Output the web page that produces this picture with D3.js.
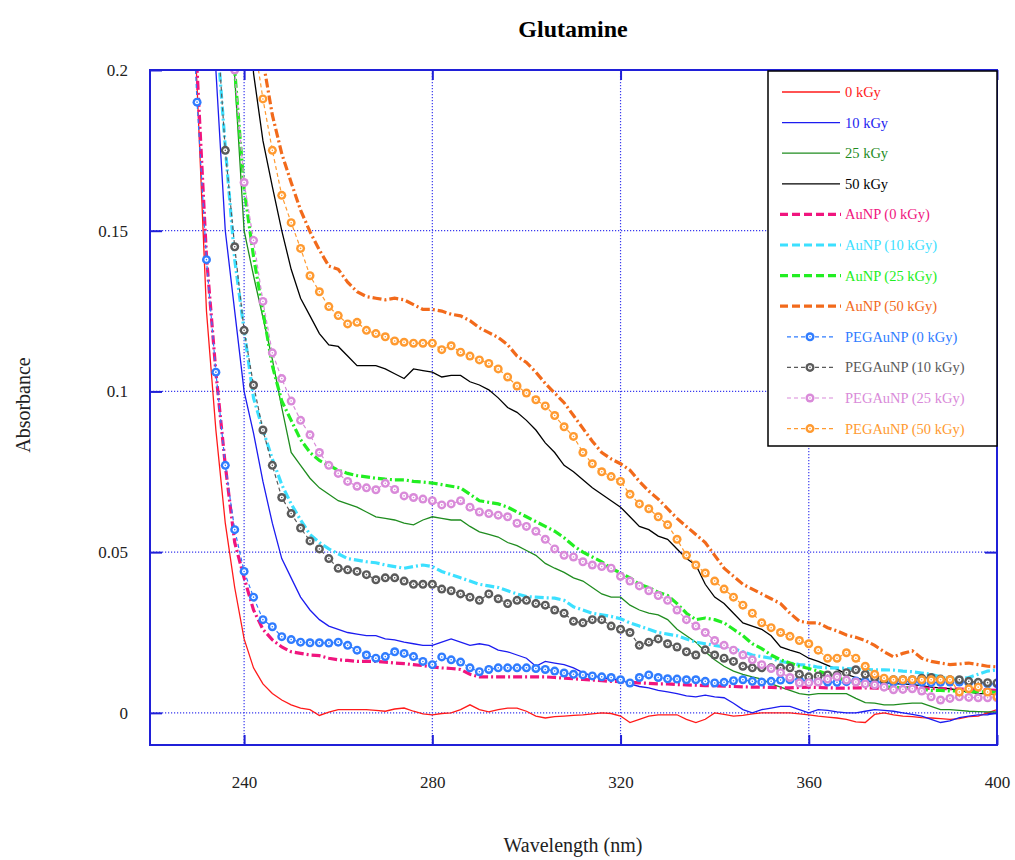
<!DOCTYPE html>
<html>
<head>
<meta charset="utf-8">
<script src="https://cdn.jsdelivr.net/npm/d3@7"></script>
<style>
  body { margin: 0; background: #fff; }
  svg { display: block; font-family: "Liberation Serif", "Times New Roman", serif; }
</style>
</head>
<body>
<svg id="chart" width="1015" height="860"></svg>
<script>
// wavelength grid (nm), read every 2 nm
var wavelength = [228,230,232,234,236,238,240,242,244,246,
  248,250,252,254,256,258,260,262,264,266,
  268,270,272,274,276,278,280,282,284,286,
  288,290,292,294,296,298,300,302,304,306,
  308,310,312,314,316,318,320,322,324,326,
  328,330,332,334,336,338,340,342,344,346,
  348,350,352,354,356,358,360,362,364,366,
  368,370,372,374,376,378,380,382,384,386,
  388,390,392,394,396,398,400];

var gy0 = [0.26,0.195,0.125,0.088,0.059,0.039,0.023,0.014,0.009,0.006,
  0.004,0.0025,0.0015,0.001,-0.0008,0.0002,0.001,0.001,0.001,0.001,
  0.0008,0.0005,0.0012,0.0015,0.0005,-0.0003,-0.0006,-0.0002,0,0.001,
  0.0025,0.001,0.0003,0.001,0.0015,0.0015,0.0005,-0.001,-0.0016,-0.0012,
  -0.001,-0.0008,-0.0006,-0.0003,0,-0.0002,-0.001,-0.003,-0.002,-0.001,
  -0.0006,-0.0006,-0.0006,-0.002,-0.003,-0.002,0,-0.0005,-0.001,-0.0008,
  -0.0003,0,0,0,0,-0.0003,-0.0006,-0.001,-0.0013,-0.0016,
  -0.002,-0.0028,-0.003,-0.0005,0,-0.0006,-0.001,-0.0012,-0.0015,-0.0016,
  -0.0018,-0.002,-0.0018,-0.0012,-0.001,0,0.001];

var gy10 = [null,null,0.25,0.2,0.15,0.125,0.1,0.087,0.072,0.059,
  0.048,0.042,0.036,0.032,0.029,0.027,0.026,0.025,0.0245,0.024,
  0.024,0.023,0.0227,0.022,0.0215,0.021,0.021,0.022,0.023,0.022,
  0.021,0.0215,0.021,0.0195,0.019,0.018,0.017,0.0145,0.016,0.0155,
  0.015,0.014,0.0125,0.0115,0.011,0.0105,0.0103,0.009,0.0082,0.0078,
  0.007,0.0065,0.006,0.0053,0.005,0.0055,0.005,0.0047,0.003,0.001,
  0,0.001,0.0015,0.002,0.002,0.001,0,0.001,0.0008,0.0003,
  0,0,0.0005,0.001,0.0008,0.0005,0,-0.0005,-0.001,-0.002,
  -0.003,-0.0025,-0.0015,-0.001,-0.0006,-0.0006,0];

var gy25 = [null,null,null,null,0.26,0.198,0.15,0.136,0.123,0.11,
  0.095,0.081,0.077,0.073,0.070,0.068,0.066,0.065,0.064,0.0625,
  0.061,0.0605,0.060,0.059,0.0585,0.060,0.061,0.0605,0.060,0.060,
  0.058,0.0563,0.0555,0.0547,0.053,0.052,0.0505,0.049,0.0465,0.045,
  0.0437,0.042,0.041,0.039,0.037,0.036,0.036,0.0335,0.032,0.031,
  0.0305,0.029,0.026,0.024,0.022,0.019,0.0165,0.0145,0.013,0.012,
  0.0112,0.0105,0.009,0.008,0.007,0.006,0.0056,0.006,0.006,0.006,
  0.006,0.0045,0.0032,0.003,0.0025,0.0025,0.0028,0.003,0.003,0.002,
  0.001,0.001,0.0008,0.0005,0.0004,0.0003,0.0003];

var gy50 = [null,null,null,null,null,null,0.26,0.199,0.178,0.1637,
  0.15,0.138,0.129,0.1235,0.118,0.1145,0.114,0.111,0.108,0.108,
  0.108,0.107,0.1055,0.104,0.107,0.1065,0.106,0.1045,0.105,0.105,
  0.103,0.102,0.1005,0.098,0.095,0.0935,0.091,0.088,0.084,0.081,
  0.077,0.075,0.0725,0.07,0.068,0.066,0.064,0.061,0.058,0.057,
  0.055,0.054,0.051,0.048,0.046,0.04,0.036,0.034,0.031,0.028,
  0.027,0.026,0.024,0.0205,0.0195,0.0187,0.017,0.016,0.0148,0.0136,
  0.012,0.011,0.010,0.0095,0.0095,0.009,0.009,0.0088,0.0085,0.008,
  0.0078,0.0075,0.007,0.0065,0.006,0.006,0.0055];

var au0 = [0.26,0.2,0.142,0.106,0.077,0.053,0.042,0.032,0.026,0.0227,
  0.0205,0.019,0.0185,0.018,0.0178,0.017,0.0165,0.0163,0.016,0.016,
  0.016,0.0158,0.0155,0.0153,0.015,0.0147,0.0143,0.014,0.0138,0.0135,
  0.012,0.0112,0.0112,0.0112,0.0112,0.0112,0.0112,0.0112,0.0112,0.011,
  0.0108,0.0106,0.0104,0.0102,0.010,0.0098,0.0097,0.0095,0.0093,0.0092,
  0.009,0.009,0.0088,0.0087,0.0086,0.0085,0.0084,0.0083,0.0082,0.0081,
  0.008,0.008,0.0079,0.0078,0.0078,0.0079,0.008,0.0079,0.0078,0.0077,
  0.0077,0.0078,0.0078,0.0077,0.0076,0.0078,0.0079,0.0078,0.0077,0.0076,
  0.0075,0.0075,0.0074,0.0073,0.0072,0.0071,0.007];

var au10 = [null,null,null,0.215,0.176,0.141,0.119,0.098,0.088,0.079,
  0.071,0.065,0.060,0.0555,0.053,0.051,0.0495,0.048,0.0475,0.047,
  0.0467,0.046,0.0455,0.045,0.0455,0.046,0.0455,0.044,0.043,0.042,
  0.041,0.040,0.0395,0.039,0.038,0.037,0.0362,0.036,0.0358,0.0357,
  0.035,0.033,0.032,0.031,0.0305,0.030,0.0293,0.028,0.027,0.026,
  0.025,0.0245,0.024,0.023,0.022,0.0215,0.021,0.0205,0.02,0.019,
  0.018,0.0175,0.017,0.016,0.0155,0.015,0.0148,0.0142,0.014,0.014,
  0.0138,0.0136,0.0135,0.0134,0.0134,0.0133,0.013,0.0128,0.0124,0.012,
  0.0112,0.0105,0.0105,0.011,0.012,0.013,0.0134];

var au25 = [null,null,null,null,0.25,0.2,0.163,0.142,0.125,0.108,
  0.097,0.091,0.085,0.081,0.0785,0.077,0.0755,0.0745,0.0738,0.0734,
  0.073,0.0727,0.0725,0.0725,0.072,0.0718,0.0715,0.071,0.0705,0.070,
  0.068,0.066,0.0655,0.065,0.064,0.0625,0.061,0.0595,0.058,0.0565,
  0.0545,0.052,0.050,0.0485,0.047,0.045,0.0435,0.042,0.040,0.039,
  0.0375,0.0365,0.034,0.031,0.029,0.0295,0.029,0.028,0.026,0.024,
  0.0215,0.020,0.018,0.0165,0.0155,0.0145,0.0138,0.013,0.012,0.011,
  0.010,0.0095,0.009,0.0085,0.008,0.008,0.0078,0.0075,0.0073,0.007,
  0.007,0.0068,0.0068,0.0066,0.0065,0.0065,0.0064];

var au50 = [null,null,null,null,null,null,null,0.25,0.203,0.186,
  0.174,0.165,0.1564,0.1497,0.144,0.139,0.138,0.134,0.131,0.1295,
  0.129,0.1285,0.129,0.1285,0.127,0.1255,0.1255,0.125,0.124,0.1235,
  0.122,0.1198,0.1183,0.1168,0.1145,0.111,0.109,0.106,0.1025,0.0995,
  0.0965,0.0925,0.0885,0.0845,0.081,0.079,0.0775,0.0755,0.072,0.069,
  0.0665,0.0635,0.0605,0.058,0.0555,0.053,0.049,0.045,0.0425,0.040,
  0.0385,0.037,0.0355,0.034,0.031,0.0285,0.028,0.028,0.0265,0.0255,
  0.0242,0.0235,0.0225,0.021,0.019,0.0174,0.0185,0.0193,0.017,0.016,
  0.0155,0.015,0.0152,0.0155,0.015,0.0145,0.0143];

var peg0 = [0.25,0.19,0.141,0.106,0.077,0.057,0.044,0.036,0.029,0.0268,
  0.0237,0.0228,0.022,0.0218,0.0218,0.0217,0.022,0.021,0.0195,0.018,
  0.017,0.0175,0.019,0.0185,0.0175,0.016,0.015,0.0174,0.0165,0.0158,
  0.014,0.0128,0.0135,0.014,0.014,0.014,0.014,0.0138,0.0135,0.013,
  0.0124,0.012,0.0118,0.0115,0.0112,0.011,0.0103,0.0093,0.011,0.0118,
  0.011,0.0106,0.0105,0.0103,0.0103,0.0098,0.0093,0.0095,0.01,0.0103,
  0.0098,0.0096,0.0098,0.0102,0.0103,0.0102,0.010,0.0098,0.0096,0.0095,
  0.0097,0.0099,0.0098,0.0096,0.0094,0.0095,0.0098,0.0097,0.0095,0.0094,
  0.0095,0.0096,0.0096,0.0094,0.0092,0.009,0.009];

var peg10 = [null,null,0.26,0.22,0.175,0.145,0.119,0.102,0.088,0.077,
  0.067,0.062,0.0575,0.0535,0.051,0.048,0.045,0.0445,0.044,0.043,
  0.0414,0.042,0.042,0.041,0.040,0.040,0.040,0.0385,0.038,0.037,
  0.036,0.035,0.037,0.0355,0.034,0.035,0.035,0.034,0.0335,0.032,
  0.031,0.0285,0.028,0.029,0.029,0.027,0.026,0.025,0.021,0.022,
  0.023,0.0215,0.0205,0.019,0.018,0.0196,0.018,0.017,0.016,0.0145,
  0.014,0.014,0.014,0.014,0.014,0.012,0.0112,0.0115,0.0118,0.0118,
  0.0125,0.0134,0.012,0.011,0.0103,0.0103,0.0103,0.0103,0.0108,0.011,
  0.0105,0.0103,0.0103,0.0098,0.0095,0.0094,0.0093];

var peg25 = [null,null,null,null,0.25,0.2,0.165,0.147,0.128,0.112,
  0.104,0.097,0.091,0.0865,0.081,0.077,0.0745,0.072,0.0705,0.070,
  0.0694,0.0714,0.0695,0.0675,0.067,0.0665,0.066,0.0647,0.065,0.066,
  0.064,0.0625,0.062,0.0615,0.061,0.059,0.058,0.0565,0.054,0.051,
  0.049,0.0485,0.047,0.046,0.0455,0.045,0.0425,0.041,0.0395,0.038,
  0.0365,0.035,0.032,0.029,0.027,0.025,0.0225,0.021,0.0195,0.018,
  0.0165,0.015,0.0138,0.0125,0.011,0.0093,0.0094,0.0096,0.0105,0.0112,
  0.0102,0.0096,0.009,0.0087,0.008,0.0072,0.0073,0.0075,0.0068,0.005,
  0.004,0.0045,0.005,0.0048,0.0047,0.0047,0.0047];

var peg50 = [null,null,null,null,null,null,0.25,0.21,0.191,0.175,
  0.161,0.1525,0.1445,0.136,0.131,0.1264,0.1236,0.121,0.1215,0.119,
  0.118,0.117,0.1157,0.1153,0.115,0.115,0.115,0.113,0.1142,0.1122,
  0.111,0.1098,0.1087,0.107,0.1045,0.1017,0.0995,0.0974,0.0955,0.0925,
  0.089,0.086,0.081,0.0775,0.075,0.0735,0.072,0.068,0.065,0.0635,
  0.061,0.0585,0.054,0.049,0.046,0.0435,0.041,0.0385,0.036,0.0335,
  0.031,0.028,0.0265,0.025,0.0238,0.0225,0.0215,0.0195,0.017,0.017,
  0.0187,0.017,0.0145,0.012,0.0108,0.0103,0.0103,0.0103,0.0103,0.0103,
  0.0103,0.0103,0.0065,0.0075,0.008,0.0065,0.005];

var seriesNames = ["0 kGy","10 kGy","25 kGy","50 kGy",
  "AuNP (0 kGy)","AuNP (10 kGy)","AuNP (25 kGy)","AuNP (50 kGy)",
  "PEGAuNP (0 kGy)","PEGAuNP (10 kGy)","PEGAuNP (25 kGy)","PEGAuNP (50 kGy)"];
var seriesValues = [gy0, gy10, gy25, gy50, au0, au10, au25, au50, peg0, peg10, peg25, peg50];
var xTicks = [240, 280, 320, 360, 400];
var yTicks = [0, 0.05, 0.1, 0.15, 0.2];

var colors = ["#ff1a1a","#1c1cf0","#1f8c1f","#000000",
  "#f0157e","#3ce0ff","#22ee22","#f26a1b",
  "#2f7cff","#5a5a5a","#d98ad9","#ff9a30"];
var kinds = ["solid","solid","solid","solid","dash","dash","dash","dash","peg","peg","peg","peg"];

var svg = d3.select("#chart");
var plotLeft = 150, plotRight = 997, plotTop = 70, plotBottom = 745;
var frameColor = "#2020d8";

var x = d3.scaleLinear().domain([220, 400]).range([plotLeft, plotRight]);
var y = d3.scaleLinear().domain([-0.01, 0.2]).range([plotBottom, plotTop]);

svg.append("defs").append("clipPath").attr("id", "plotClip")
  .append("rect").attr("x", plotLeft).attr("y", plotTop)
  .attr("width", plotRight - plotLeft).attr("height", plotBottom - plotTop);

// dotted grid
var grid = svg.append("g");
grid.selectAll(".vg").data(xTicks.slice(0, -1)).enter().append("line")
  .attr("x1", function(d){ return x(d); }).attr("x2", function(d){ return x(d); })
  .attr("y1", plotTop).attr("y2", plotBottom)
  .attr("stroke", "#3a3aee").attr("stroke-width", 1.2).attr("stroke-dasharray", "1.2,1.8");
grid.selectAll(".hg").data(yTicks.slice(0, -1)).enter().append("line")
  .attr("x1", plotLeft).attr("x2", plotRight)
  .attr("y1", function(d){ return y(d); }).attr("y2", function(d){ return y(d); })
  .attr("stroke", "#3a3aee").attr("stroke-width", 1.2).attr("stroke-dasharray", "1.2,1.8");

// axes with inward ticks
var yAxis = svg.append("g").attr("transform", "translate(" + plotLeft + ",0)")
  .call(d3.axisLeft(y).tickValues(yTicks).tickSizeInner(-12).tickSizeOuter(0)
    .tickPadding(22).tickFormat(function(d){ return String(d); }));
var yAxisR = svg.append("g").attr("transform", "translate(" + plotRight + ",0)")
  .call(d3.axisRight(y).tickValues(yTicks).tickSizeInner(-12).tickSizeOuter(0).tickFormat(""));
var xAxis = svg.append("g").attr("transform", "translate(0," + plotBottom + ")")
  .call(d3.axisBottom(x).tickValues(xTicks).tickSizeInner(-10).tickSizeOuter(0)
    .tickPadding(31).tickFormat(function(d){ return String(d); }));
var xAxisT = svg.append("g").attr("transform", "translate(0," + plotTop + ")")
  .call(d3.axisTop(x).tickValues(xTicks).tickSizeInner(-10).tickSizeOuter(0).tickFormat(""));

[yAxis, yAxisR, xAxis, xAxisT].forEach(function(a){
  a.select(".domain").remove();
  a.selectAll(".tick line").attr("stroke", frameColor).attr("stroke-width", 2);
  a.selectAll(".tick text").attr("font-family", "Liberation Serif").attr("font-size", 17).attr("fill", "#222");
});

// curves
var plot = svg.append("g").attr("clip-path", "url(#plotClip)");
var line = d3.line()
  .defined(function(d){ return d.v != null; })
  .x(function(d){ return x(d.w); })
  .y(function(d){ return y(d.v); });

function drawMarker(sel, color){
  sel.append("circle").attr("r", 4.5).attr("fill", color);
  sel.append("circle").attr("r", 2.1).attr("fill", "#fff");
  sel.append("circle").attr("r", 0.8).attr("fill", color);
}

seriesValues.forEach(function(vals, i){
  var pts = wavelength.map(function(w, j){ return {w: w, v: vals[j]}; });
  var p = plot.append("path").datum(pts)
    .attr("fill", "none").attr("stroke", colors[i]).attr("d", line);
  if (kinds[i] == "solid") {
    p.attr("stroke-width", 1.3);
  } else if (kinds[i] == "dash") {
    p.attr("stroke-width", 3.2).attr("stroke-dasharray", "9,3,2,3");
  } else {
    p.attr("stroke-width", 1.2).attr("stroke-dasharray", "4,3");
    var mk = plot.append("g").selectAll("g")
      .data(pts.filter(function(d){ return d.v != null; }))
      .enter().append("g")
      .attr("transform", function(d){ return "translate(" + x(d.w) + "," + y(d.v) + ")"; });
    drawMarker(mk, colors[i]);
  }
});

// frame
svg.append("rect").attr("x", plotLeft).attr("y", plotTop)
  .attr("width", plotRight - plotLeft).attr("height", plotBottom - plotTop)
  .attr("fill", "none").attr("stroke", frameColor).attr("stroke-width", 2);

// legend
var lg = svg.append("g");
lg.append("rect").attr("x", 768).attr("y", 71).attr("width", 229).attr("height", 375)
  .attr("fill", "#fff").attr("stroke", "#000").attr("stroke-width", 1.5);
var rows = lg.selectAll(".row").data(seriesNames).enter().append("g")
  .attr("transform", function(d, i){ return "translate(0," + (92 + i * 30.6) + ")"; });
rows.each(function(d, i){
  var g = d3.select(this);
  if (kinds[i] == "solid") {
    g.append("line").attr("x1", 782).attr("x2", 840).attr("stroke", colors[i]).attr("stroke-width", 1.3);
  } else if (kinds[i] == "dash") {
    g.append("line").attr("x1", 780).attr("x2", 841).attr("stroke", colors[i])
      .attr("stroke-width", 3.2).attr("stroke-dasharray", "8,4");
  } else {
    g.append("line").attr("x1", 787).attr("x2", 834).attr("stroke", colors[i])
      .attr("stroke-width", 1.2).attr("stroke-dasharray", "4,3");
    drawMarker(g.append("g").attr("transform", "translate(810,0)"), colors[i]);
  }
  g.append("text").attr("x", 845).attr("y", 5).attr("font-size", 14.5)
    .attr("fill", colors[i]).text(d);
});

// titles
svg.append("text").attr("x", 573).attr("y", 37).attr("text-anchor", "middle")
  .attr("font-size", 24).attr("font-weight", "bold").text("Glutamine");
svg.append("text").attr("x", 573).attr("y", 852).attr("text-anchor", "middle")
  .attr("font-size", 20).attr("fill", "#222").text("Wavelength (nm)");
svg.append("text").attr("transform", "translate(30,405) rotate(-90)").attr("text-anchor", "middle")
  .attr("font-size", 20).attr("fill", "#222").text("Absorbance");
</script>
</body>
</html>
